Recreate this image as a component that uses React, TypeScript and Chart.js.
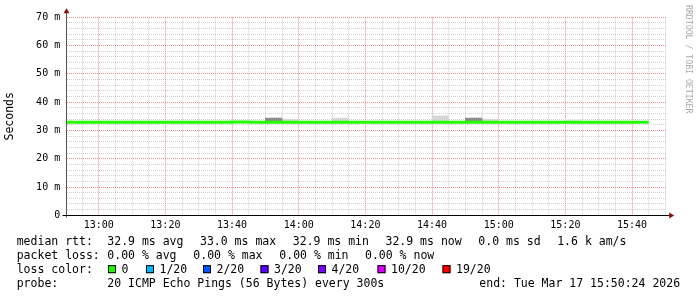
import React, { useEffect, useRef } from 'react';
import { Chart, registerables } from 'chart.js';

Chart.register(...registerables);

// Time axis in minutes after 12:00 (window 12:50:24 .. 15:50:24)
const windowStart = 50.4;
const windowEnd = 230.4;

// Start minute of each 5-minute RRD step
const intervalStart = [
  50, 55, 60, 65, 70, 75, 80, 85, 90, 95, 100, 105, 110, 115, 120, 125, 130, 135,
  140, 145, 150, 155, 160, 165, 170, 175, 180, 185, 190, 195, 200, 205, 210, 215, 220,
];

// Median RTT (ms) per step
const medianRtt = [
  32.9, 32.9, 32.9, 32.9, 32.9, 32.9, 32.9, 32.9, 32.9, 32.9, 33.0, 32.9, 32.9, 32.9, 32.9, 32.9, 32.9, 32.9,
  32.9, 32.9, 32.9, 32.9, 32.9, 32.9, 32.9, 32.9, 32.9, 32.9, 32.9, 32.9, 32.9, 32.9, 32.9, 32.9, 32.9,
];

// Smoke tops (ms): dense / sparse / very sparse ping bands above the median
const smokeDarkTop = [
  null, null, null, null, null, null, null, null, null, null, null, null, 34.4, null, null, null, null, null,
  null, null, null, null, null, null, 34.4, null, null, null, null, null, null, null, null, null, null,
];
const smokeLightTop = [
  null, null, null, null, null, null, null, null, null, null, null, null, null, 33.9, null, null, 34.4, null,
  null, null, null, null, 35.2, null, null, 33.9, null, null, null, null, null, null, null, null, null,
];
const smokeFaintTop = [
  null, null, null, null, null, null, null, null, null, null, null, null, null, null, null, null, null, null,
  null, null, null, null, null, null, null, null, null, null, null, null, 33.9, null, null, null, null,
];

const yAxisTitle = 'Seconds';
const watermark = 'RRDTOOL / TOBI OETIKER';

const rttLegend = ['median rtt:', '32.9 ms avg', '33.0 ms max', '32.9 ms min', '32.9 ms now', '0.0 ms sd', '1.6 k am/s'];
const lossLegend = ['packet loss:', '0.00 % avg', '0.00 % max', '0.00 % min', '0.00 % now'];
const lossColorTitle = 'loss color:';
const lossLabels = ['0', '1/20', '2/20', '3/20', '4/20', '10/20', '19/20'];
const lossColors = ['#20ff00', '#00b8ff', '#0059ff', '#5e00ff', '#7e00ff', '#dd00ff', '#ff0000'];
const probeLegend = ['probe:', '20 ICMP Echo Pings (56 Bytes) every 300s', 'end: Tue Mar 17 15:50:24 2026'];

const MONO = '"DejaVu Sans Mono", "Liberation Mono", monospace';
const MAJOR = 'rgba(225,60,60,0.6)';
const MINOR = 'rgba(150,150,150,0.45)';

function fmtTime(v: number): string {
  const h = 12 + Math.floor(v / 60);
  const m = Math.round(v % 60);
  return `${h}:${m < 10 ? '0' : ''}${m}`;
}

const overlayPlugin = {
  id: 'rrdOverlay',
  afterDraw(chart: any) {
    const ctx: CanvasRenderingContext2D = chart.ctx;
    const area = chart.chartArea;
    const ax = Math.round(area.left - 0.5) + 0.5;
    const ay = Math.round(area.bottom - 0.5) + 0.5;
    ctx.save();
    // axis extensions
    ctx.lineWidth = 1;
    ctx.strokeStyle = '#555';
    ctx.beginPath();
    ctx.moveTo(ax, area.top - 5);
    ctx.lineTo(ax, ay + 2);
    ctx.stroke();
    ctx.strokeStyle = '#000';
    ctx.beginPath();
    ctx.moveTo(ax - 4, ay);
    ctx.lineTo(area.right + 3, ay);
    ctx.stroke();
    // arrows
    ctx.fillStyle = '#8b1010';
    ctx.beginPath();
    ctx.moveTo(ax, area.top - 9);
    ctx.lineTo(ax - 3, area.top - 4);
    ctx.lineTo(ax + 3, area.top - 4);
    ctx.closePath();
    ctx.fill();
    ctx.beginPath();
    ctx.moveTo(area.right + 7.5, ay);
    ctx.lineTo(area.right + 2.5, ay - 3);
    ctx.lineTo(area.right + 2.5, ay + 3);
    ctx.closePath();
    ctx.fill();

    // watermark
    ctx.save();
    ctx.translate(688, 5);
    ctx.rotate(Math.PI / 2);
    ctx.font = `8.2px ${MONO}`;
    ctx.fillStyle = '#aaaaaa';
    ctx.textBaseline = 'middle';
    ctx.textAlign = 'left';
    ctx.fillText(watermark, 0, 0);
    ctx.restore();

    // legend
    ctx.font = `11.5px ${MONO}`;
    ctx.fillStyle = '#000';
    ctx.textBaseline = 'alphabetic';
    ctx.textAlign = 'left';
    const base = [245, 259.1, 273.2, 287.3];
    const rttX = [16.7, 107.3, 200, 292.8, 385.5, 478.3, 557.2];
    rttLegend.forEach((t, i) => ctx.fillText(t, rttX[i], base[0]));
    const lossX = [16.7, 107.3, 193.3, 279.3, 365];
    lossLegend.forEach((t, i) => ctx.fillText(t, lossX[i], base[1]));
    ctx.fillText(lossColorTitle, 16.7, base[2]);
    const sqX = [108, 146, 203, 260.5, 318, 377.5, 442.5];
    lossLabels.forEach((t, i) => {
      ctx.fillStyle = lossColors[i];
      ctx.fillRect(sqX[i], base[2] - 8, 8, 8);
      ctx.strokeStyle = '#000';
      ctx.lineWidth = 1;
      ctx.strokeRect(sqX[i] + 0.5, base[2] - 7.5, 7, 7);
      ctx.fillStyle = '#000';
      ctx.fillText(t, sqX[i] + 13.5, base[2]);
    });
    const probeX = [16.7, 107.3, 479.3];
    probeLegend.forEach((t, i) => ctx.fillText(t, probeX[i], base[3]));
    ctx.restore();
  },
};

export default function App() {
  const ref = useRef<HTMLCanvasElement | null>(null);

  useEffect(() => {
    if (!ref.current) return;
    const mkSmoke = (tops: (number | null)[]) =>
      intervalStart.map((t, i) => ({ x: t + 2.5, y: tops[i] == null ? null : [medianRtt[i], tops[i]] }));
    const linePts = intervalStart.map((t, i) => ({ x: t, y: medianRtt[i] }));
    linePts.push({ x: intervalStart[intervalStart.length - 1] + 5, y: medianRtt[medianRtt.length - 1] });

    const barCommon = {
      type: 'bar' as const,
      barPercentage: 1,
      categoryPercentage: 1,
      grouped: false,
      borderWidth: 0,
    };

    const chart = new Chart(ref.current, {
      type: 'line',
      data: {
        datasets: [
          { ...barCommon, label: 'smoke faint', data: mkSmoke(smokeFaintTop) as any, backgroundColor: '#e8e8e8', order: 3 },
          { ...barCommon, label: 'smoke light', data: mkSmoke(smokeLightTop) as any, backgroundColor: '#d6d6d6', order: 2 },
          { ...barCommon, label: 'smoke dark', data: mkSmoke(smokeDarkTop) as any, backgroundColor: '#8c8c8c', order: 1 },
          {
            type: 'line',
            label: 'median rtt',
            data: linePts as any,
            borderColor: '#20ff00',
            borderWidth: 3,
            pointRadius: 0,
            stepped: 'before',
            fill: false,
            tension: 0,
            clip: 0 as any,
            borderCapStyle: 'butt',
            order: 0,
          },
        ],
      },
      options: {
        responsive: false,
        maintainAspectRatio: false,
        devicePixelRatio: 1,
        animation: false,
        events: [],
        layout: { padding: { left: 0, top: 17.3, right: 30.3, bottom: 0 } },
        plugins: { legend: { display: false }, tooltip: { enabled: false }, title: { display: false } },
        scales: {
          x: {
            type: 'linear',
            min: windowStart,
            max: windowEnd,
            offset: false,
            afterBuildTicks: (scale: any) => {
              const ticks = [];
              for (let v = Math.ceil(windowStart / 5) * 5; v <= windowEnd; v += 5) ticks.push({ value: v });
              scale.ticks = ticks;
            },
            afterFit: (scale: any) => {
              scale.height = 81.7;
            },
            ticks: {
              autoSkip: false,
              maxRotation: 0,
              minRotation: 0,
              padding: 4,
              color: '#000',
              font: { family: MONO, size: 10 },
              callback: (v: any) => (Number(v) % 20 === 0 ? fmtTime(Number(v)) : ''),
            },
            grid: {
              offset: false,
              drawTicks: false,
              lineWidth: 1,
              color: (c: any) => (c.tick && c.tick.value % 20 === 0 ? MAJOR : MINOR),
            },
            border: { display: true, color: '#000', width: 1, dash: [1, 1] },
          },
          y: {
            type: 'linear',
            min: 0,
            max: 70,
            afterFit: (scale: any) => {
              scale.width = 66.7;
            },
            ticks: {
              stepSize: 2,
              maxTicksLimit: 100,
              autoSkip: false,
              padding: 6.5,
              color: '#000',
              font: { family: MONO, size: 10 },
              callback: (v: any) => {
                const n = Number(v);
                if (n % 10 !== 0) return '';
                return n === 0 ? '0' : `${n} m`;
              },
            },
            grid: {
              drawTicks: false,
              lineWidth: 1,
              color: (c: any) => (c.tick && c.tick.value % 10 === 0 ? MAJOR : MINOR),
            },
            border: { display: true, color: '#555', width: 1, dash: [1, 1] },
            title: {
              display: true,
              text: yAxisTitle,
              color: '#000',
              font: { family: MONO, size: 11.5 },
              padding: { top: 3.5, bottom: 0 },
            },
          },
        },
      },
      plugins: [overlayPlugin],
    });
    return () => chart.destroy();
  }, []);

  return (
    <div style={{ position: 'absolute', left: 0, top: 0, width: 697, height: 297, background: '#fff' }}>
      <canvas ref={ref} width={697} height={297} style={{ width: 697, height: 297, display: 'block' }} />
    </div>
  );
}
